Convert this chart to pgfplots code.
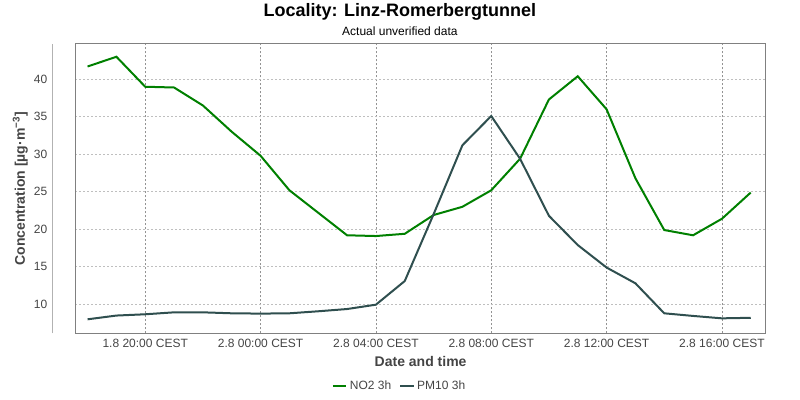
\documentclass[border=0pt]{standalone}
\usepackage{pgfplots}
\pgfplotsset{compat=1.18}
\usepackage{fontspec}
\setmainfont{Liberation Sans}
\definecolor{no2}{HTML}{008000}
\definecolor{pm}{HTML}{2F4F4F}
\definecolor{txt}{HTML}{444444}
\begin{document}
\begin{tikzpicture}[x=1pt,y=1pt]
\path[use as bounding box] (0,0) rectangle (600,300);
\begin{axis}[
  at={(56.6pt,50pt)}, anchor=south west,
  scale only axis, width=517.7pt, height=217pt,
  xmin=17.58, xmax=41.52, ymin=6.13, ymax=44.7,
  xtick={20,24,28,32,36,40},
  xticklabels={1.8 20:00 CEST,2.8 00:00 CEST,2.8 04:00 CEST,2.8 08:00 CEST,2.8 12:00 CEST,2.8 16:00 CEST},
  ytick={10,15,20,25,30,35,40},
  /pgf/number format/assume math mode=true,
  tick label style={font=\fontsize{9}{10}\selectfont, text=txt},
  yticklabel style={inner sep=0pt, xshift=-21pt},
  xticklabel style={yshift=-1pt},
  major tick length=0pt,
  axis line style={draw=gray, line width=0.75pt},
  xmajorgrids, ymajorgrids,
  x grid style={dash pattern=on 1.5pt off 1.5pt, gray!85, line width=0.6pt},
  y grid style={dash pattern=on 1.5pt off 1.5pt, gray!50, line width=0.6pt},
  xlabel={\textbf{Date and time}},
  xlabel style={at={(axis description cs:0.5,-0.099)}, anchor=center, font=\fontsize{10.5}{12}\selectfont, text=txt},
  ylabel={\textbf{Concentration [µg·m\textsuperscript{−3}]}},
  ylabel style={at={(axis description cs:-0.080,0.5)}, anchor=center, rotate=0, font=\fontsize{10.5}{12}\selectfont, text=txt},
  legend columns=2,
  legend style={at={(axis description cs:0.470,-0.182)}, anchor=center, draw=none, fill=none, font=\fontsize{9}{10}\selectfont, text=txt, /tikz/every even column/.append style={column sep=4pt}},
  legend image code/.code={\draw[#1] (0pt,0pt) -- (10pt,0pt);},
  clip=false,
]
\addplot[no2, line width=1.5pt] coordinates {
(18,41.7) (19,43.0) (20,39.0) (21,38.9) (22,36.5) (23,33.0) (24,29.8) (25,25.2)
(26,22.2) (27,19.2) (28,19.1) (29,19.4) (30,21.9) (31,23.0) (32,25.2) (33,29.4)
(34,37.3) (35,40.4) (36,36.0) (37,26.8) (38,19.9) (39,19.2) (40,21.4) (41,24.9)
};
\addlegendentry{NO2 3h}
\addplot[pm, line width=1.5pt] coordinates {
(18,8.0) (19,8.5) (20,8.67) (21,8.93) (22,8.93) (23,8.8) (24,8.76) (25,8.8)
(26,9.07) (27,9.37) (28,9.95) (29,13.1) (30,22.0) (31,31.2) (32,35.1) (33,29.4)
(34,21.8) (35,17.9) (36,14.9) (37,12.8) (38,8.8) (39,8.45) (40,8.13) (41,8.2)
};
\addlegendentry{PM10 3h}
\draw[gray!60, line width=0.75pt] (rel axis cs:-0.0326,0) -- (rel axis cs:-0.0326,1);
\node[anchor=center, font=\fontsize{13.5}{15}\selectfont\bfseries, text=black] at ([yshift=24pt]axis description cs:0.470,1) {Locality: Linz-Romerbergtunnel};
\node[anchor=center, font=\fontsize{9}{10}\selectfont, text=black] at ([yshift=9.5pt]axis description cs:0.470,1) {Actual unverified data};
\end{axis}
\end{tikzpicture}
\end{document}
